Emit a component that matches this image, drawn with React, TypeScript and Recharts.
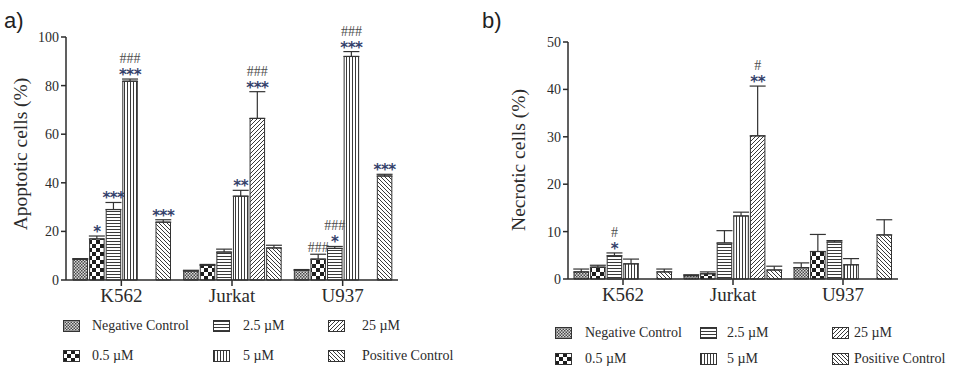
import React from 'react';
import { BarChart, Bar, XAxis, YAxis, ErrorBar, LabelList } from 'recharts';

const cellLines = ['K562', 'Jurkat', 'U937'];
const seriesKeys = ['neg', 'c05', 'c25', 'c5', 'c250', 'pos'];
const seriesNames = ['Negative Control', '0.5 µM', '2.5 µM', '5 µM', '25 µM', 'Positive Control'];

// a) apoptotic cells (%), one array per treatment, order K562 / Jurkat / U937
const apoNeg = [8.5, 3.7, 4.0];
const apo05 = [16.9, 6.0, 8.6];
const apo25 = [29.0, 11.5, 13.0];
const apo5 = [81.8, 34.5, 92.0];
const apo250 = [null, 66.5, null];
const apoPos = [23.8, 13.2, 42.8];

const apoNegErr = [0.3, 0.3, 0.3];
const apo05Err = [1.2, 0.4, 2.0];
const apo25Err = [2.9, 1.2, 0.8];
const apo5Err = [0.9, 2.4, 2.0];
const apo250Err = [null, 11.0, null];
const apoPosErr = [1.0, 1.1, 0.7];

const apoStars = [['', '', ''], ['*', '', ''], ['***', '', '*'], ['***', '**', '***'], ['', '***', ''], ['***', '', '***']];
const apoHashes = [['', '', ''], ['', '', '###'], ['', '', '###'], ['###', '', '###'], ['', '###', ''], ['', '', '']];

// b) necrotic cells (%)
const necNeg = [1.5, 0.7, 2.4];
const nec05 = [2.5, 1.1, 5.8];
const nec25 = [4.9, 7.6, 7.8];
const nec5 = [3.2, 13.3, 3.0];
const nec250 = [null, 30.2, null];
const necPos = [1.5, 1.9, 9.3];

const necNegErr = [0.6, 0.2, 1.0];
const nec05Err = [0.4, 0.4, 3.6];
const nec25Err = [0.6, 2.6, 0.3];
const nec5Err = [1.0, 0.8, 1.3];
const nec250Err = [null, 10.5, null];
const necPosErr = [0.6, 0.8, 3.2];

const necStars = [['', '', ''], ['', '', ''], ['*', '', ''], ['', '', ''], ['', '**', ''], ['', '', '']];
const necHashes = [['', '', ''], ['', '', ''], ['#', '', ''], ['', '', ''], ['', '#', ''], ['', '', '']];

const apoTicks = [0, 20, 40, 60, 80, 100];
const necTicks = [0, 10, 20, 30, 40, 50];

const serif = '"Liberation Serif", "Times New Roman", serif';
const ink = '#2b2b2b';

function buildRows(vals: (number | null)[][], errs: (number | null)[][], stars: string[][], hashes: string[][]) {
  return cellLines.map((cell, i) => {
    const row: Record<string, any> = { cell };
    seriesKeys.forEach((k, s) => {
      row[k] = vals[s][i];
      const e = errs[s][i];
      row[k + 'Err'] = e == null ? null : [0, e];
      row[k + 'Sig'] = { v: vals[s][i], e: e ?? 0, s: stars[s][i], h: hashes[s][i] };
    });
    return row;
  });
}

const apoRows = buildRows(
  [apoNeg, apo05, apo25, apo5, apo250, apoPos],
  [apoNegErr, apo05Err, apo25Err, apo5Err, apo250Err, apoPosErr],
  apoStars,
  apoHashes
);
const necRows = buildRows(
  [necNeg, nec05, nec25, nec5, nec250, necPos],
  [necNegErr, nec05Err, nec25Err, nec5Err, nec250Err, necPosErr],
  necStars,
  necHashes
);

function Patterns({ id }: { id: string }) {
  return (
    <defs>
      <pattern id={`${id}-neg`} width={3} height={3} patternUnits="userSpaceOnUse">
        <rect width={3} height={3} fill="#d8d8d8" />
        <rect width={1.5} height={1.5} fill="#4a4a4a" />
        <rect x={1.5} y={1.5} width={1.5} height={1.5} fill="#4a4a4a" />
      </pattern>
      <pattern id={`${id}-c05`} width={8} height={8} patternUnits="userSpaceOnUse">
        <rect width={8} height={8} fill="#fff" />
        <rect width={4} height={4} fill="#1e1e1e" />
        <rect x={4} y={4} width={4} height={4} fill="#1e1e1e" />
      </pattern>
      <pattern id={`${id}-c25`} width={3} height={3} patternUnits="userSpaceOnUse">
        <rect width={3} height={3} fill="#fff" />
        <rect y={1} width={3} height={1} fill="#3a3a3a" />
      </pattern>
      <pattern id={`${id}-c5`} width={3} height={3} patternUnits="userSpaceOnUse">
        <rect width={3} height={3} fill="#fff" />
        <rect x={1} width={1} height={3} fill="#3a3a3a" />
      </pattern>
      <pattern id={`${id}-c250`} width={4} height={4} patternUnits="userSpaceOnUse">
        <rect width={4} height={4} fill="#fff" />
        <path d="M-1,1 l2,-2 M0,4 l4,-4 M3,5 l2,-2" stroke="#3a3a3a" strokeWidth={1} />
      </pattern>
      <pattern id={`${id}-pos`} width={4} height={4} patternUnits="userSpaceOnUse">
        <rect width={4} height={4} fill="#fff" />
        <path d="M-1,3 l2,2 M0,0 l4,4 M3,-1 l2,2" stroke="#3a3a3a" strokeWidth={1} />
      </pattern>
    </defs>
  );
}

// stars / hashes drawn above the error bar of each bar
function renderSig(p: any) {
  const sig = p.value;
  if (!sig || (!sig.s && !sig.h)) return null;
  const perUnit = Math.abs(p.height) / sig.v;
  const top = p.y - sig.e * perUnit;
  const cx = p.x + p.width / 2;
  const starY = top - 8;
  const hashY = sig.s ? starY - 13 : top - 7;
  return (
    <g>
      {sig.s && (
        <text x={cx} y={starY + 9} textAnchor="middle" style={{ fontFamily: '"DejaVu Sans", sans-serif', fontWeight: 'bold', fontSize: 15 }} fill="#34416b" letterSpacing={-0.5}>
          {sig.s}
        </text>
      )}
      {sig.h && (
        <text x={cx} y={hashY + 5} textAnchor="middle" style={{ fontFamily: serif, fontSize: 14 }} fill="#4d4d4d">
          {sig.h}
        </text>
      )}
    </g>
  );
}

type PanelProps = {
  id: string;
  rows: Record<string, any>[];
  ticks: number[];
  title: string;
  width: number;
  margin: { top: number; right: number; bottom: number; left: number };
  yWidth: number;
  titleX: number;
  titleY: number;
};

function Panel({ id, rows, ticks, title, width, margin, yWidth, titleX, titleY }: PanelProps) {
  return (
    <BarChart width={width} height={366} data={rows} margin={margin} barSize={14.5} barGap={2.1} style={{ fontFamily: serif }}>
      <Patterns id={id} />
      <XAxis
        dataKey="cell"
        height={30}
        tickSize={6}
        tickMargin={3}
        axisLine={{ stroke: ink, strokeWidth: 1.5 }}
        tickLine={{ stroke: ink, strokeWidth: 1.5 }}
        tick={{ fill: ink, fontSize: 19, style: { fontFamily: serif } }}
      />
      <YAxis
        width={yWidth}
        domain={[0, ticks[ticks.length - 1]]}
        ticks={ticks}
        interval={0}
        tickSize={5}
        axisLine={{ stroke: ink, strokeWidth: 1.5 }}
        tickLine={{ stroke: ink, strokeWidth: 1.5 }}
        tick={{ fill: ink, fontSize: 14, style: { fontFamily: serif } }}
        label={{
          content: () => (
            <text
              x={titleX}
              y={titleY}
              transform={`rotate(-90 ${titleX} ${titleY})`}
              textAnchor="middle"
              dominantBaseline="central"
              style={{ fontFamily: serif, fontSize: 19.5 }}
              fill={ink}
            >
              {title}
            </text>
          )
        }}
      />
      {seriesKeys.map((k, s) => (
        <Bar key={k} dataKey={k} name={seriesNames[s]} fill={`url(#${id}-${k})`} stroke="#333" strokeWidth={1} isAnimationActive={false}>
          <ErrorBar dataKey={k + 'Err'} width={8} stroke="#333" strokeWidth={1.2} direction="y" />
          <LabelList dataKey={k + 'Sig'} content={renderSig} />
        </Bar>
      ))}
    </BarChart>
  );
}

function Legend({ id, swatchX, textX, rowY }: { id: string; swatchX: number[]; textX: number[]; rowY: number[] }) {
  return (
    <>
      {seriesKeys.map((k, s) => {
        const col = Math.floor(s / 2);
        const row = s % 2;
        return (
          <React.Fragment key={k}>
            <svg style={{ position: 'absolute', left: swatchX[col], top: rowY[row] - 6 }} width={17} height={12}>
              <rect x={0.5} y={0.5} width={16} height={11} fill={`url(#${id}-${k})`} stroke="#333" strokeWidth={1} />
            </svg>
            <div
              style={{
                position: 'absolute',
                left: textX[col],
                top: rowY[row] - 10,
                fontFamily: serif,
                fontSize: 14,
                lineHeight: '20px',
                color: ink,
                whiteSpace: 'nowrap'
              }}
            >
              {seriesNames[s]}
            </div>
          </React.Fragment>
        );
      })}
    </>
  );
}

const panelLetter: React.CSSProperties = {
  position: 'absolute',
  top: 10,
  fontFamily: '"Liberation Sans", Arial, sans-serif',
  fontSize: 22,
  lineHeight: '22px',
  color: '#222'
};

export default function App() {
  return (
    <div style={{ position: 'absolute', left: 0, top: 0, width: 963, height: 366, background: '#fff', overflow: 'hidden', fontFamily: serif }}>
      <div style={{ position: 'absolute', left: 0, top: 0 }}>
        <Panel
          id="pa"
          rows={apoRows}
          ticks={apoTicks}
          title="Apoptotic cells (%)"
          width={480}
          margin={{ top: 37, right: 82, bottom: 56, left: 0 }}
          yWidth={66}
          titleX={20}
          titleY={154}
        />
      </div>
      <div style={{ position: 'absolute', left: 480, top: 0 }}>
        <Panel
          id="pb"
          rows={necRows}
          ticks={necTicks}
          title="Necrotic cells (%)"
          width={483}
          margin={{ top: 42, right: 65, bottom: 57, left: 0 }}
          yWidth={88}
          titleX={38}
          titleY={160}
        />
      </div>
      <div style={{ ...panelLetter, left: 4 }}>a)</div>
      <div style={{ ...panelLetter, left: 482 }}>b)</div>
      <Legend id="pa" swatchX={[63, 213, 328]} textX={[92, 243, 362]} rowY={[326, 356]} />
      <Legend id="pb" swatchX={[555, 700, 832]} textX={[585, 727, 854]} rowY={[333, 359]} />
    </div>
  );
}
